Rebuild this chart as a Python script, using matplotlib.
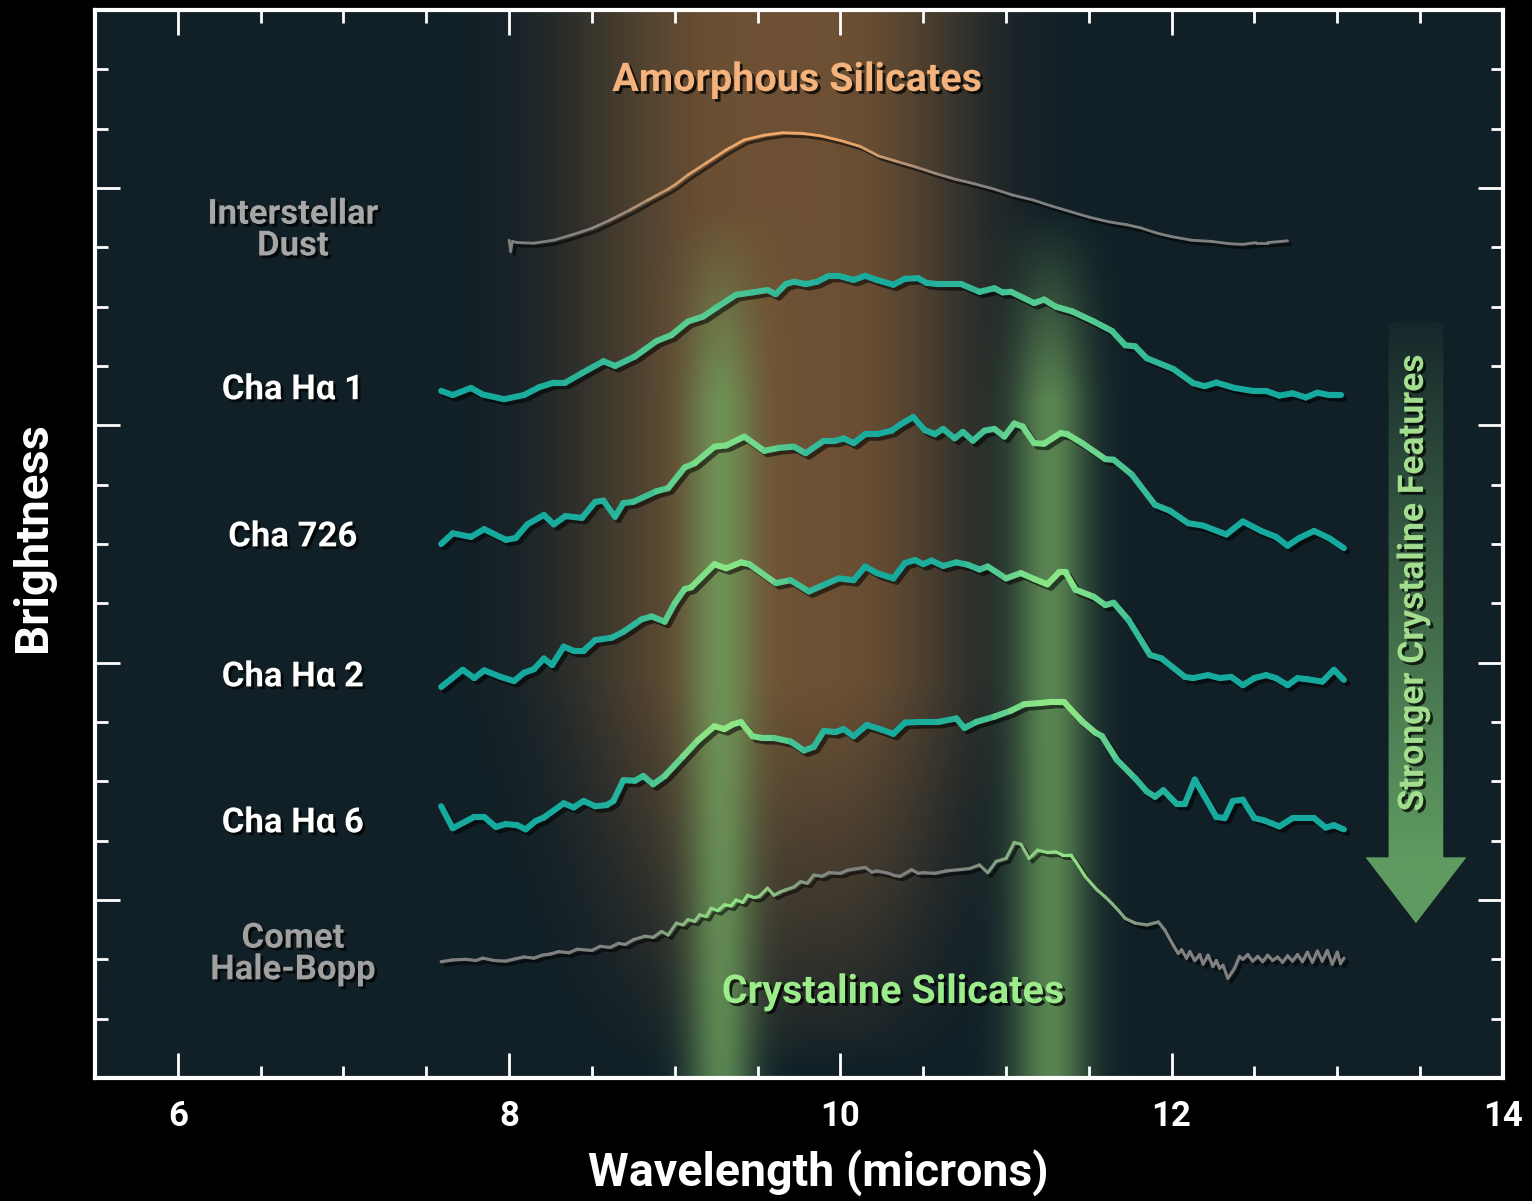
import numpy as np
import matplotlib
matplotlib.use("Agg")
import matplotlib.pyplot as plt
import matplotlib.patheffects as pe
import matplotlib.transforms as mtransforms
from matplotlib.collections import LineCollection
from matplotlib.patches import Polygon
from matplotlib.ticker import MultipleLocator, FixedLocator

plt.rcParams["font.family"] = ["Roboto", "DejaVu Sans"]

# ---------------------------------------------------------
# spectra (x: microns, y: brightness units)
# ---------------------------------------------------------
dust_x = [8.00, 8.01, 8.02, 8.05, 8.15, 8.27, 8.38, 8.50, 8.61, 8.73, 8.84, 8.96, 9.00, 9.08, 9.19,
          9.31, 9.42, 9.54, 9.65, 9.77, 9.88, 10.00, 10.12, 10.23, 10.35, 10.46, 10.58, 10.69, 10.81,
          10.93, 11.04, 11.16, 11.27, 11.39, 11.50, 11.62, 11.73, 11.81, 11.91, 12.00, 12.12, 12.24,
          12.35, 12.43, 12.51, 12.58, 12.70]
dust_y = [14.12, 13.93, 14.10, 14.08, 14.07, 14.12, 14.21, 14.32, 14.46, 14.63, 14.80, 14.98, 15.05,
          15.22, 15.42, 15.64, 15.81, 15.89, 15.93, 15.92, 15.88, 15.80, 15.70, 15.54, 15.44, 15.35,
          15.24, 15.15, 15.07, 14.98, 14.88, 14.80, 14.70, 14.60, 14.51, 14.43, 14.38, 14.33, 14.24,
          14.18, 14.12, 14.10, 14.06, 14.05, 14.08, 14.08, 14.11]

ha1_x = [7.59, 7.66, 7.77, 7.84, 7.97, 8.09, 8.18, 8.27, 8.34, 8.44, 8.57, 8.64, 8.76, 8.89, 8.98,
         9.08, 9.17, 9.26, 9.37, 9.47, 9.56, 9.61, 9.67, 9.72, 9.79, 9.86, 9.93, 9.99, 10.08, 10.15,
         10.22, 10.32, 10.39, 10.47, 10.52, 10.59, 10.73, 10.84, 10.93, 10.98, 11.03, 11.17, 11.23,
         11.30, 11.40, 11.53, 11.64, 11.72, 11.78, 11.85, 12.01, 12.13, 12.20, 12.27, 12.38, 12.49,
         12.57, 12.65, 12.73, 12.81, 12.88, 12.95, 13.02]
ha1_y = [11.58, 11.51, 11.63, 11.52, 11.44, 11.51, 11.64, 11.72, 11.72, 11.88, 12.08, 12.00, 12.16,
         12.42, 12.52, 12.75, 12.83, 13.00, 13.20, 13.24, 13.28, 13.21, 13.38, 13.42, 13.38, 13.42,
         13.52, 13.52, 13.45, 13.52, 13.45, 13.37, 13.47, 13.48, 13.40, 13.38, 13.38, 13.25, 13.31,
         13.24, 13.25, 13.06, 13.12, 13.00, 12.92, 12.75, 12.59, 12.35, 12.33, 12.13, 11.95, 11.71,
         11.66, 11.72, 11.63, 11.58, 11.58, 11.50, 11.54, 11.47, 11.55, 11.51, 11.51]

c726_x = [7.59, 7.66, 7.77, 7.85, 7.98, 8.04, 8.11, 8.21, 8.27, 8.34, 8.44, 8.52, 8.57, 8.64, 8.69,
          8.75, 8.89, 8.96, 9.06, 9.12, 9.24, 9.31, 9.42, 9.54, 9.63, 9.72, 9.79, 9.90, 9.97, 10.02,
          10.08, 10.15, 10.22, 10.31, 10.36, 10.44, 10.51, 10.57, 10.62, 10.69, 10.74, 10.80, 10.87,
          10.93, 10.99, 11.05, 11.10, 11.17, 11.23, 11.33, 11.37, 11.46, 11.60, 11.65, 11.76, 11.90,
          11.99, 12.10, 12.19, 12.33, 12.43, 12.54, 12.63, 12.70, 12.77, 12.86, 12.95, 13.04]
c726_y = [9.00, 9.18, 9.12, 9.25, 9.07, 9.10, 9.33, 9.49, 9.33, 9.47, 9.44, 9.71, 9.73, 9.46, 9.69,
          9.71, 9.89, 9.94, 10.29, 10.36, 10.64, 10.66, 10.81, 10.57, 10.62, 10.64, 10.53, 10.74,
          10.74, 10.78, 10.70, 10.85, 10.85, 10.91, 11.01, 11.14, 10.92, 10.85, 10.94, 10.78, 10.89,
          10.74, 10.91, 10.94, 10.81, 11.03, 10.98, 10.70, 10.69, 10.87, 10.85, 10.70, 10.43, 10.42,
          10.17, 9.66, 9.56, 9.35, 9.31, 9.16, 9.38, 9.22, 9.12, 8.97, 9.10, 9.22, 9.10, 8.93]

ha2_x = [7.59, 7.72, 7.79, 7.85, 7.95, 8.03, 8.09, 8.15, 8.21, 8.26, 8.33, 8.39, 8.45, 8.52, 8.62,
         8.69, 8.80, 8.86, 8.94, 9.00, 9.06, 9.10, 9.24, 9.31, 9.40, 9.45, 9.61, 9.70, 9.81, 9.90,
         9.99, 10.08, 10.15, 10.22, 10.32, 10.39, 10.45, 10.50, 10.55, 10.62, 10.70, 10.77, 10.84,
         10.89, 11.00, 11.09, 11.17, 11.25, 11.32, 11.36, 11.42, 11.53, 11.60, 11.65, 11.74, 11.87,
         11.94, 12.08, 12.13, 12.22, 12.29, 12.36, 12.43, 12.50, 12.57, 12.63, 12.70, 12.76, 12.82,
         12.91, 12.98, 13.04]
ha2_y = [6.59, 6.88, 6.74, 6.87, 6.76, 6.69, 6.83, 6.89, 7.07, 6.96, 7.27, 7.20, 7.20, 7.38, 7.42,
         7.52, 7.73, 7.78, 7.69, 8.00, 8.24, 8.27, 8.66, 8.59, 8.69, 8.66, 8.34, 8.39, 8.20, 8.31,
         8.42, 8.39, 8.62, 8.51, 8.42, 8.68, 8.73, 8.66, 8.72, 8.63, 8.69, 8.65, 8.57, 8.62, 8.42,
         8.51, 8.41, 8.32, 8.52, 8.52, 8.23, 8.11, 7.97, 8.01, 7.72, 7.13, 7.07, 6.76, 6.74, 6.79,
         6.74, 6.76, 6.62, 6.74, 6.79, 6.74, 6.62, 6.74, 6.72, 6.68, 6.88, 6.71]

ha6_x = [7.59, 7.66, 7.79, 7.85, 7.92, 7.98, 8.05, 8.10, 8.16, 8.21, 8.33, 8.39, 8.45, 8.52, 8.59,
         8.63, 8.69, 8.76, 8.81, 8.87, 8.94, 9.05, 9.14, 9.24, 9.30, 9.35, 9.40, 9.47, 9.53, 9.60,
         9.70, 9.78, 9.84, 9.90, 9.97, 10.02, 10.08, 10.16, 10.25, 10.32, 10.39, 10.48, 10.59, 10.70,
         10.75, 10.82, 10.93, 11.03, 11.11, 11.21, 11.28, 11.35, 11.46, 11.54, 11.58, 11.67, 11.78,
         11.85, 11.90, 11.95, 12.03, 12.08, 12.14, 12.27, 12.32, 12.37, 12.43, 12.50, 12.56, 12.65,
         12.73, 12.86, 12.93, 12.98, 13.04]
ha6_y = [4.58, 4.21, 4.40, 4.40, 4.23, 4.28, 4.26, 4.19, 4.33, 4.39, 4.63, 4.56, 4.67, 4.58, 4.60,
         4.67, 5.02, 5.01, 5.09, 4.95, 5.09, 5.42, 5.69, 5.93, 5.88, 5.96, 6.00, 5.76, 5.73, 5.73,
         5.67, 5.52, 5.58, 5.85, 5.83, 5.88, 5.76, 5.95, 5.87, 5.80, 5.99, 6.00, 6.00, 6.06, 5.90,
         6.00, 6.09, 6.19, 6.30, 6.32, 6.34, 6.34, 6.01, 5.82, 5.76, 5.36, 5.05, 4.83, 4.74, 4.85,
         4.62, 4.62, 5.03, 4.40, 4.38, 4.67, 4.69, 4.38, 4.34, 4.24, 4.38, 4.38, 4.22, 4.26, 4.19]

comet_x = [7.59, 7.66, 7.74, 7.80, 7.84, 7.91, 7.98, 8.04, 8.09, 8.15, 8.20, 8.25, 8.30, 8.36, 8.41,
           8.50, 8.55, 8.61, 8.66, 8.70, 8.75, 8.82, 8.87, 8.92, 8.96, 9.01, 9.05, 9.08, 9.12, 9.15,
           9.19, 9.22, 9.26, 9.30, 9.34, 9.37, 9.41, 9.44, 9.48, 9.51, 9.56, 9.60, 9.64, 9.67, 9.72,
           9.76, 9.80, 9.84, 9.89, 9.93, 10.00, 10.04, 10.08, 10.15, 10.19, 10.22, 10.29, 10.33,
           10.36, 10.43, 10.47, 10.50, 10.57, 10.64, 10.71, 10.78, 10.84, 10.89, 10.94, 11.00, 11.05,
           11.09, 11.14, 11.19, 11.25, 11.30, 11.34, 11.39, 11.42, 11.48, 11.55, 11.60, 11.64, 11.68,
           11.72, 11.78, 11.85, 11.92, 11.96, 12.01, 12.04, 12.06, 12.09, 12.11, 12.14, 12.17, 12.19,
           12.22, 12.25, 12.27, 12.29, 12.31, 12.34, 12.38, 12.41, 12.43, 12.46, 12.49, 12.52, 12.55,
           12.58, 12.61, 12.64, 12.67, 12.70, 12.73, 12.76, 12.79, 12.82, 12.85, 12.88, 12.91, 12.94,
           12.97, 13.00, 13.02, 13.04]
comet_y = [1.96, 1.99, 2.00, 1.98, 2.02, 1.98, 1.97, 2.01, 2.04, 2.02, 2.07, 2.09, 2.13, 2.11, 2.17,
           2.15, 2.22, 2.20, 2.27, 2.25, 2.33, 2.39, 2.37, 2.47, 2.41, 2.61, 2.58, 2.67, 2.64, 2.75,
           2.72, 2.86, 2.82, 2.92, 2.90, 3.00, 2.96, 3.08, 3.04, 3.06, 3.20, 3.08, 3.14, 3.17, 3.22,
           3.31, 3.28, 3.42, 3.40, 3.46, 3.45, 3.50, 3.52, 3.55, 3.47, 3.49, 3.45, 3.41, 3.40, 3.51,
           3.45, 3.46, 3.45, 3.49, 3.51, 3.53, 3.59, 3.46, 3.65, 3.70, 3.97, 3.94, 3.70, 3.84, 3.80,
           3.81, 3.76, 3.76, 3.65, 3.39, 3.17, 3.05, 2.94, 2.82, 2.69, 2.61, 2.58, 2.63, 2.49, 2.24,
           2.10, 2.16, 2.02, 2.13, 1.98, 2.08, 1.92, 2.07, 1.88, 1.98, 1.85, 1.90, 1.68, 1.85, 2.05,
           2.00, 2.08, 1.97, 2.05, 1.96, 2.07, 1.98, 2.04, 1.95, 2.06, 1.97, 2.08, 1.96, 2.12, 1.95,
           2.14, 1.97, 2.15, 1.92, 2.12, 1.93, 2.02]

x_ticks = [6, 8, 10, 12, 14]
y_major = [3, 7, 11, 15]

labels = ["Interstellar\nDust", "Cha H\u03b1 1", "Cha 726", "Cha H\u03b1 2", "Cha H\u03b1 6", "Comet\nHale-Bopp"]
label_y = [14.29, 11.60, 9.12, 6.76, 4.30, 2.09]
label_col = ["#a6a6a6", "white", "white", "white", "white", "#a0a0a0"]

# ---------------------------------------------------------
BG = np.array([17, 32, 39]) / 255
ORANGE = np.array([110, 81, 52]) / 255
GREEN = np.array([112, 165, 95]) / 255
TEAL = np.array([22, 170, 158]) / 255
LIGHT = np.array([145, 232, 132]) / 255
GRAY = np.array([128, 128, 128]) / 255
PEACH = np.array([242, 170, 104]) / 255

fig = plt.figure(figsize=(15.32, 12.01), dpi=100, facecolor="black")
ax = fig.add_axes([0.062, 0.1024, 0.919, 0.8893])
ax.set_xlim(5.5, 14)
ax.set_ylim(0, 18)

# background glow
gx = np.linspace(5.5, 14, 700)
gy = np.linspace(0, 18, 450)
X, Y = np.meshgrid(gx, gy)
vo = np.clip((Y - 0.2) / 6.5, 0, 1) ** 0.8
half = np.where(X < 9.7, 1.25, 1.05) * (0.7 + 0.3 * vo)
wo = np.exp(-(np.abs(X - 9.7) / half) ** 3) * vo
vg = np.clip((14.6 - Y) / 3.2, 0, 1)
wg = (np.exp(-((X - 9.28) / 0.21) ** 2) + np.exp(-((X - 11.27) / 0.23) ** 2)) * vg * 0.75
img = BG * (1 - wo)[..., None] + ORANGE * wo[..., None]
img = img * (1 - wg)[..., None] + GREEN * wg[..., None]
ax.imshow(img, extent=[5.5, 14, 0, 18], origin="lower", aspect="auto", zorder=0,
          interpolation="bilinear")

shadow_tr = ax.transData + mtransforms.ScaledTranslation(2.5 / 72, -2.5 / 72, fig.dpi_scale_trans)


def band_weight(x, c1, c2, s):
    return np.maximum(np.exp(-((x - c1) / s) ** 2), np.exp(-((x - c2) / s) ** 2))


def draw_spectrum(x, y, base, hi, w, lw):
    x = np.asarray(x)
    y = np.asarray(y)
    ax.plot(x, y, color="black", alpha=0.55, lw=lw, transform=shadow_tr, zorder=2,
            solid_capstyle="round", solid_joinstyle="round")
    pts = np.column_stack([x, y])
    segs = np.stack([pts[:-1], pts[1:]], axis=1)
    xm = 0.5 * (x[:-1] + x[1:])
    ww = w(xm)[:, None]
    cols = base * (1 - ww) + hi * ww
    lc = LineCollection(segs, colors=cols, linewidths=lw, capstyle="round",
                        joinstyle="round", zorder=3)
    ax.add_collection(lc)


draw_spectrum(dust_x, dust_y, GRAY, PEACH,
              lambda x: np.exp(-(np.abs(x - 9.62) / 0.85) ** 3), 2.0)
draw_spectrum(ha1_x, ha1_y, TEAL, LIGHT, lambda x: 0.55 * band_weight(x, 9.1, 11.35, 0.6), 4.4)
draw_spectrum(c726_x, c726_y, TEAL, LIGHT, lambda x: 0.85 * band_weight(x, 9.3, 11.3, 0.5), 4.4)
draw_spectrum(ha2_x, ha2_y, TEAL, LIGHT, lambda x: 0.95 * band_weight(x, 9.3, 11.3, 0.45), 4.4)
draw_spectrum(ha6_x, ha6_y, TEAL, LIGHT, lambda x: band_weight(x, 9.3, 11.3, 0.45), 4.4)
draw_spectrum(comet_x, comet_y, GRAY, LIGHT, lambda x: 0.95 * band_weight(x, 9.35, 11.35, 0.38), 2.3)

# text
txt_shadow = [pe.withSimplePatchShadow(offset=(2, -2), shadow_rgbFace="black", alpha=0.75)]
for lab, ly, lc_ in zip(labels, label_y, label_col):
    ax.text(6.695, ly, lab, color=lc_, fontsize=25, fontweight="bold", ha="center",
            va="center", linespacing=0.95, zorder=5, path_effects=txt_shadow)

ax.text(9.74, 16.82, "Amorphous Silicates", color="#f4b27c", fontsize=28.5, fontweight="bold",
        ha="center", va="center", zorder=5, path_effects=txt_shadow)
ax.text(10.32, 1.45, "Crystaline Silicates", color="#9cec8c", fontsize=28.5, fontweight="bold",
        ha="center", va="center", zorder=5, path_effects=txt_shadow)

# arrow with fading shaft
arrow_xy = [(13.31, 12.74), (13.64, 12.74), (13.64, 3.72), (13.78, 3.72), (13.475, 2.61),
            (13.17, 3.72), (13.31, 3.72)]
arrow = Polygon(arrow_xy, closed=True, facecolor="none", edgecolor="none", zorder=4)
ax.add_patch(arrow)
ay = np.linspace(2.5, 12.9, 300)
t = np.clip((12.74 - ay) / (12.74 - 3.72), 0, 1)
head = np.array([95, 154, 96]) / 255
grad = np.zeros((300, 1, 4))
grad[:, 0, :3] = BG + (head - BG) * (0.05 + 0.95 * t[:, None] ** 0.9)
grad[:, 0, 3] = 1.0
im = ax.imshow(grad, extent=[13.1, 13.85, 2.5, 12.9], origin="lower", aspect="auto", zorder=4)
im.set_clip_path(arrow)
ax.text(13.46, 8.34, "Stronger Crystaline Features", color="#a2de8e", fontsize=25.5,
        fontweight="bold", rotation=90, ha="center", va="center", zorder=5,
        path_effects=txt_shadow)

# frame & ticks
for sp in ax.spines.values():
    sp.set_color("white")
    sp.set_linewidth(3)
ax.xaxis.set_major_locator(FixedLocator(x_ticks))
ax.xaxis.set_minor_locator(MultipleLocator(0.5))
ax.yaxis.set_major_locator(FixedLocator(y_major))
ax.yaxis.set_minor_locator(MultipleLocator(1))
ax.tick_params(which="both", direction="in", top=True, right=True, color="white", width=2,
               labelleft=False)
ax.tick_params(which="major", length=18)
ax.tick_params(which="minor", length=9)
ax.tick_params(axis="x", which="major", labelcolor="white", labelsize=25, pad=16)
for lab in ax.get_xticklabels():
    lab.set_fontweight("bold")

fig.text(0.534, 0.024, "Wavelength (microns)", color="white", fontsize=33.5, fontweight="bold",
         ha="center", va="center")
fig.text(0.0215, 0.553, "Brightness", color="white", fontsize=34, fontweight="bold",
         rotation=90, ha="center", va="center")

fig.savefig("out.png", dpi=100, facecolor="black")
